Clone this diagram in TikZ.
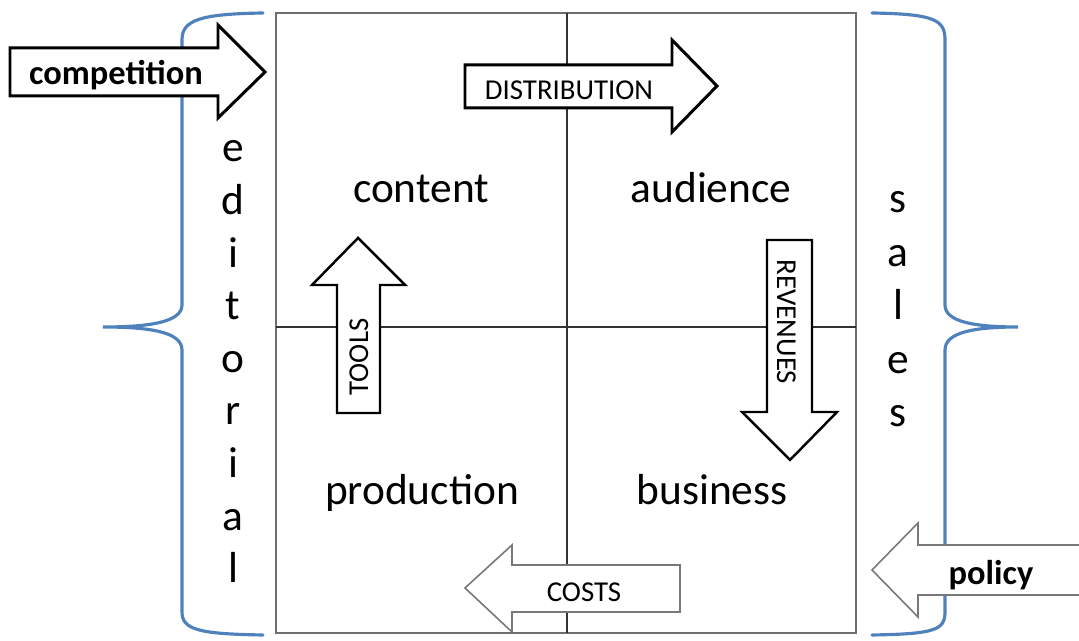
\documentclass[tikz,border=0pt]{standalone}
\usepackage{fontspec}
\setmainfont{Carlito}
\usetikzlibrary{positioning}

\definecolor{braceblue}{RGB}{79,129,189}
\definecolor{gridgray}{RGB}{110,110,110}
\definecolor{arrowgray}{RGB}{120,120,120}

\tikzset{
  celltext/.style={font=\fontsize{24.7}{29.6}\selectfont, anchor=base, inner sep=0pt},
  flowtext/.style={font=\fontsize{16.4}{19.7}\selectfont, anchor=base, inner sep=0pt},
  forcetext/.style={font=\fontsize{19.6}{23.5}\selectfont\bfseries, anchor=base, inner sep=0pt},
  blackarrow/.style={draw=black, line width=1.7pt, fill=white},
  grayarrow/.style={draw=arrowgray, line width=0.9pt, fill=white},
  bracket/.style={draw=braceblue, line width=1.8pt, line cap=round},
}

\begin{document}
\begin{tikzpicture}[x=0.02cm, y=0.02cm]
  \useasboundingbox (0,0) rectangle (1079,641);

  % Braces
  \draw[bracket] (263,628) .. controls (200,627) and (182,621) .. (182,601)
    -- (182,336) .. controls (182,319) and (150,314) .. (103,314)
    .. controls (150,314) and (182,309) .. (182,291)
    -- (182,29) .. controls (182,11) and (200,7) .. (263,6);
  \draw[bracket] (872,628) .. controls (935,627) and (945,621) .. (945,601)
    -- (945,336) .. controls (945,319) and (975,314) .. (1018,314)
    .. controls (975,314) and (945,309) .. (945,291)
    -- (945,29) .. controls (945,11) and (935,7) .. (872,6);

  % Grid
  \draw[gridgray, line width=1.1pt] (276,8) rectangle (856,628);
  \draw[black!80, line width=1.1pt] (567,8) -- (567,628);
  \draw[black!80, line width=1.1pt] (276,314) -- (856,314);

  % Cells
  \node[celltext] (content) at (421,438) {content};
  \node[celltext] (audience) at (711,438) {audience};
  \node[celltext] (production) at (422,136) {production};
  \node[celltext] (business) at (712,136) {business};

  % Side labels
  \foreach \ch [count=\i from 0] in {e,d,i,t,o,r,i,a,l}
    \node[celltext] (ed\i) at (233,479-52.6*\i) {\ch};
  \foreach \ch [count=\i from 0] in {s,a,l,e,s}
    \node[celltext] (sa\i) at (898,428-53.5*\i) {\ch};

  % Block arrows
  \draw[blackarrow] (10,593) -- (218,593) -- (218,616) -- (265,569) -- (218,523) -- (218,545) -- (10,545) -- cycle;
  \draw[blackarrow] (465,576) -- (672,576) -- (672,601) -- (717,555) -- (672,509) -- (672,533) -- (465,533) -- cycle;
  \draw[blackarrow, line width=1.4pt] (337,228) -- (337,356) -- (312,356) -- (358,403) -- (405,356) -- (380,356) -- (380,228) -- cycle;
  \draw[blackarrow, line width=1.4pt] (767,401) -- (767,229) -- (742,229) -- (790,181) -- (837,229) -- (812,229) -- (812,401) -- cycle;
  \draw[grayarrow] (680,76) -- (512,76) -- (512,96) -- (465,53) -- (512,9) -- (512,29) -- (680,29) -- cycle;
  \draw[grayarrow] (1090,96) -- (918,96) -- (918,118) -- (872,71) -- (918,24) -- (918,46) -- (1090,46);

  % Arrow labels
  \node[forcetext] (competition) at (116,556) {competition};
  \node[forcetext] (policy) at (991,56) {policy};
  \node[flowtext] (distribution) at (569,541) {DISTRIBUTION};
  \node[flowtext] (costs) at (584,39) {COSTS};
  \node[flowtext, rotate=90] (tools) at (368,284) {TOOLS};
  \node[flowtext, rotate=-90] (revenues) at (777,319) {REVENUES};
\end{tikzpicture}
\end{document}
